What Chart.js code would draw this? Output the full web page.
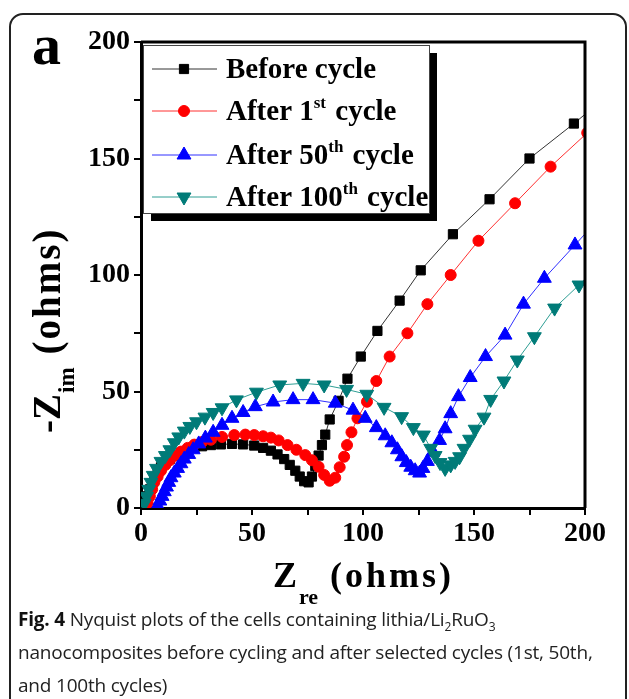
<!DOCTYPE html>
<html>
<head>
<meta charset="utf-8">
<script src="https://cdn.jsdelivr.net/npm/chart.js@4.4.0/dist/chart.umd.min.js"></script>
<style>
  html, body { margin: 0; padding: 0; background: #fff; }
  body { width: 629px; height: 699px; position: relative; overflow: hidden; }
  #frame { position: absolute; left: 9px; top: 13px; width: 614px; height: 720px;
           border: 2px solid #222; border-radius: 14px; }
  #wrap { position: absolute; left: 0; top: 0; width: 629px; height: 699px; }
  #caption { position: absolute; left: 18px; top: 603px; width: 606px;
             font-family: "Open Sans", sans-serif; font-size: 19px; line-height: 33px; color: #222;
             letter-spacing: -0.2px; }
  #caption b { color: #111; }
  #caption sub { font-size: 12px; line-height: 0; }
</style>
</head>
<body>
<div id="frame"></div>
<div id="wrap"><canvas id="nyquist" width="629" height="699"></canvas></div>
<div id="caption"><b>Fig. 4</b> Nyquist plots of the cells containing lithia/Li<sub>2</sub>RuO<sub>3</sub><br>nanocomposites before cycling and after selected cycles (1st, 50th,<br>and 100th cycles)</div>
<script>
// Z_re / -Z_im pairs (ohms)
const beforeCycle = [[2,2],[3,5],[4,8],[5,10.5],[6,13],[7.5,15.5],[9,17.5],[11,19.5],[13,21],[15.5,22.5],
  [18,23.5],[21,24.8],[24,25.8],[27.5,26.5],[31.5,27],[36,27.3],[41,27.5],[46,27.3],[51,26.8],[55,25.8],
  [58.5,24.6],[61.5,23],[64.5,21],[67,18.5],[69.5,16],[71.5,13.5],[73.5,11.5],[75.5,11],[77,13.5],[78.5,18],
  [80,22.5],[81.5,27],[83,31.5],[85,38],[89,46],[93,55.5],[99,65],[106.5,76],[116.5,89],[126,102],
  [140.5,117.5],[157,132.5],[175,150],[195,165],[214,180]];
const after1st = [[3,2],[4,5],[5,8],[6,11],[7.5,13.5],[9,16],[11,18.5],[13,20.5],[15.5,22.5],[18,24.2],
  [21,25.8],[24,27.2],[27.5,28.3],[31.5,29.3],[36.5,30.5],[42,31.3],[47,31.5],[51,31.3],[55,30.8],[58.5,30.2],
  [62,29],[66,27],[70,25],[74,22.7],[77,20.5],[80,17.7],[82.5,14.2],[85,11.7],[87.5,13],[89.5,17.5],
  [91.5,22],[92.8,27],[94.8,32.5],[97.5,38.5],[101.8,45.6],[106,54.5],[112,65],[120,75],[129,87.5],
  [139.5,100],[152,114.7],[168.5,130.8],[184.5,146.5],[201,161]];
const after50th = [[7.5,1],[8.5,3],[9.5,5],[10.5,7],[11.5,9],[12.5,11],[13.5,13],[15,15],[16.5,17],[18,19],
  [19.5,21],[21.5,23],[23.5,25],[26,27.5],[29,30],[32.5,32.5],[36.5,35.5],[41,38.5],[46,41],[51.5,43.5],
  [59.5,45.5],[68.5,46.5],[77.5,46.5],[87.5,45],[95.5,42],[101,38.5],[106,34.5],[110,31],[113,28],[115.5,25],
  [117.5,22],[119.5,19.5],[121.5,17.5],[123.5,16],[125.5,15],[127,17],[129,20],[131.5,24],[134.5,29],
  [137,34],[139.5,40.5],[143,47.8],[148.3,56],[155.2,65],[164,74.2],[172.3,87.5],[181.7,98.6],[195.5,112.9],
  [207,125]];
const after100th = [[1.5,2],[2.5,5],[3.5,8],[4.5,11],[5.5,14],[7,17],[9,20],[11,22.5],[13,25],[15,28],
  [17,30.5],[19.5,33],[22,35],[25,37],[28.8,39],[32.5,41],[36.5,43],[43,46.4],[52,49.7],[62.5,52.8],
  [73,53.5],[82.5,52.8],[92.6,50.9],[101.7,48.8],[109.5,43.2],[117.4,39.2],[122.7,34.5],[127.2,31.3],
  [130.5,25.6],[132.5,22.5],[134.7,19.5],[137,17],[139.5,18.5],[141.5,20],[143.5,22],[145.5,25.6],
  [148,29.5],[150.5,33.8],[154.5,39],[157.5,46.6],[163.5,54.5],[169.5,63.5],[177.2,73.5],[186.3,85.8],
  [197.3,95.7],[210,108]];

const xTicks = [0, 50, 100, 150, 200];
const yTicks = [0, 50, 100, 150, 200];

const serif = '"Liberation Serif", "Times New Roman", serif';

const legendLabels = [
  [['Before cycle']],
  [['After 1'], ['st', 1], [' cycle']],
  [['After 50'], ['th', 1], [' cycle']],
  [['After 100'], ['th', 1], [' cycle']]
];

function toPoints(arr) {
  return arr.map(p => ({ x: p[0], y: p[1] }));
}

function series(data, line, marker, style, radius, rotation, order) {
  return {
    data: toPoints(data),
    showLine: true,
    borderColor: line,
    borderWidth: 1,
    pointStyle: style,
    pointRadius: radius,
    pointRotation: rotation,
    pointBackgroundColor: marker,
    pointBorderColor: marker,
    pointBorderWidth: 1,
    order: order
  };
}

// draws text pieces left to right, superscripts raised and smaller
function drawRich(ctx, parts, x, y, size) {
  parts.forEach(p => {
    const small = p[1] === 1;
    ctx.font = 'bold ' + (small ? Math.round(size * 0.6) : size) + 'px ' + serif;
    ctx.fillText(p[0], x, small ? y - size * 0.42 : y);
    x += ctx.measureText(p[0]).width + (small ? 2 : 0);
  });
}

const decor = {
  id: 'decor',
  afterDraw(chart) {
    const ctx = chart.ctx;
    const a = chart.chartArea;
    ctx.save();
    // box top / right
    ctx.strokeStyle = '#000';
    ctx.lineWidth = 3;
    ctx.beginPath();
    ctx.moveTo(a.left, a.top);
    ctx.lineTo(a.right, a.top);
    ctx.lineTo(a.right, a.bottom);
    ctx.stroke();

    // legend box with drop shadow
    const lx = 143, ly = 45, lw = 286, lh = 168;
    ctx.fillStyle = '#000';
    ctx.fillRect(lx + 8, ly + 8, lw, lh);
    ctx.fillStyle = '#fff';
    ctx.fillRect(lx, ly, lw, lh);
    ctx.strokeStyle = '#444';
    ctx.lineWidth = 1;
    ctx.strokeRect(lx + 0.5, ly + 0.5, lw, lh);

    const rows = [69, 111, 155, 197];
    chart.data.datasets.forEach((ds, i) => {
      const ry = rows[i];
      ctx.strokeStyle = ds.borderColor;
      ctx.lineWidth = 1;
      ctx.beginPath();
      ctx.moveTo(152, ry);
      ctx.lineTo(217, ry);
      ctx.stroke();
      ctx.fillStyle = ds.pointBackgroundColor;
      ctx.strokeStyle = ds.pointBorderColor;
      Chart.helpers.drawPoint(ctx, {
        pointStyle: ds.pointStyle, radius: ds.pointRadius,
        rotation: ds.pointRotation, borderWidth: 1
      }, 184, ry);
      ctx.fillStyle = '#000';
      ctx.textBaseline = 'alphabetic';
      ctx.textAlign = 'left';
      drawRich(ctx, legendLabels[i], 226, ry + 9, 29);
    });

    // panel letter
    ctx.fillStyle = '#000';
    ctx.font = 'bold 58px ' + serif;
    ctx.textAlign = 'left';
    ctx.fillText('a', 32, 64);

    // x title
    ctx.font = 'bold 36px ' + serif;
    ctx.fillText('Z', 273, 587);
    ctx.font = 'bold 22px ' + serif;
    ctx.fillText('re', 299, 604);
    ctx.font = 'bold 36px ' + serif;
    ctx.letterSpacing = '3px';
    ctx.fillText('(ohms)', 330, 587);
    ctx.letterSpacing = '0px';

    // y title
    ctx.translate(60, 433);
    ctx.rotate(-Math.PI / 2);
    ctx.font = 'bold 39px ' + serif;
    ctx.fillText('-Z', 0, 0);
    let w = ctx.measureText('-Z').width;
    ctx.font = 'bold 23px ' + serif;
    ctx.fillText('im', w + 1, 14);
    w += ctx.measureText('im').width + 14;
    ctx.font = 'bold 39px ' + serif;
    ctx.letterSpacing = '2px';
    ctx.fillText('(ohms)', w, 0);
    ctx.restore();
  }
};

function axis(ticks, extra) {
  return Object.assign({
    type: 'linear',
    min: ticks[0],
    max: ticks[ticks.length - 1],
    grid: { drawOnChartArea: false, drawTicks: true, tickLength: 7, lineWidth: 2, color: '#000' },
    border: { display: true, width: 3, color: '#000' },
    ticks: {
      stepSize: 25,
      color: '#000',
      font: { family: serif, size: 28, weight: 'bold' },
      callback: v => ticks.includes(v) ? v : ''
    }
  }, extra);
}

const xScale = axis(xTicks, { afterFit: s => { s.height = 699 - 508; } });
xScale.ticks.padding = 2;
xScale.ticks.maxRotation = 0;
xScale.ticks.autoSkip = false;
const yScale = axis(yTicks, { afterFit: s => { s.width = 141; } });
yScale.ticks.padding = 4;
yScale.ticks.autoSkip = false;

new Chart(document.getElementById('nyquist'), {
  type: 'scatter',
  data: {
    datasets: [
      series(beforeCycle, '#333333', '#000000', 'rect', 6.5, 0, 4),
      series(after1st, '#ff3030', '#ff0000', 'circle', 5.5, 0, 3),
      series(after50th, '#3030ff', '#0000ff', 'triangle', 8, 0, 2),
      series(after100th, '#2e9e94', '#007b78', 'triangle', 8, 180, 1)
    ]
  },
  options: {
    responsive: false,
    animation: false,
    layout: { padding: { left: 0, top: 42, right: 44, bottom: 0 } },
    plugins: { legend: { display: false }, tooltip: { enabled: false } },
    scales: { x: xScale, y: yScale }
  },
  plugins: [decor]
});
</script>
</body>
</html>
